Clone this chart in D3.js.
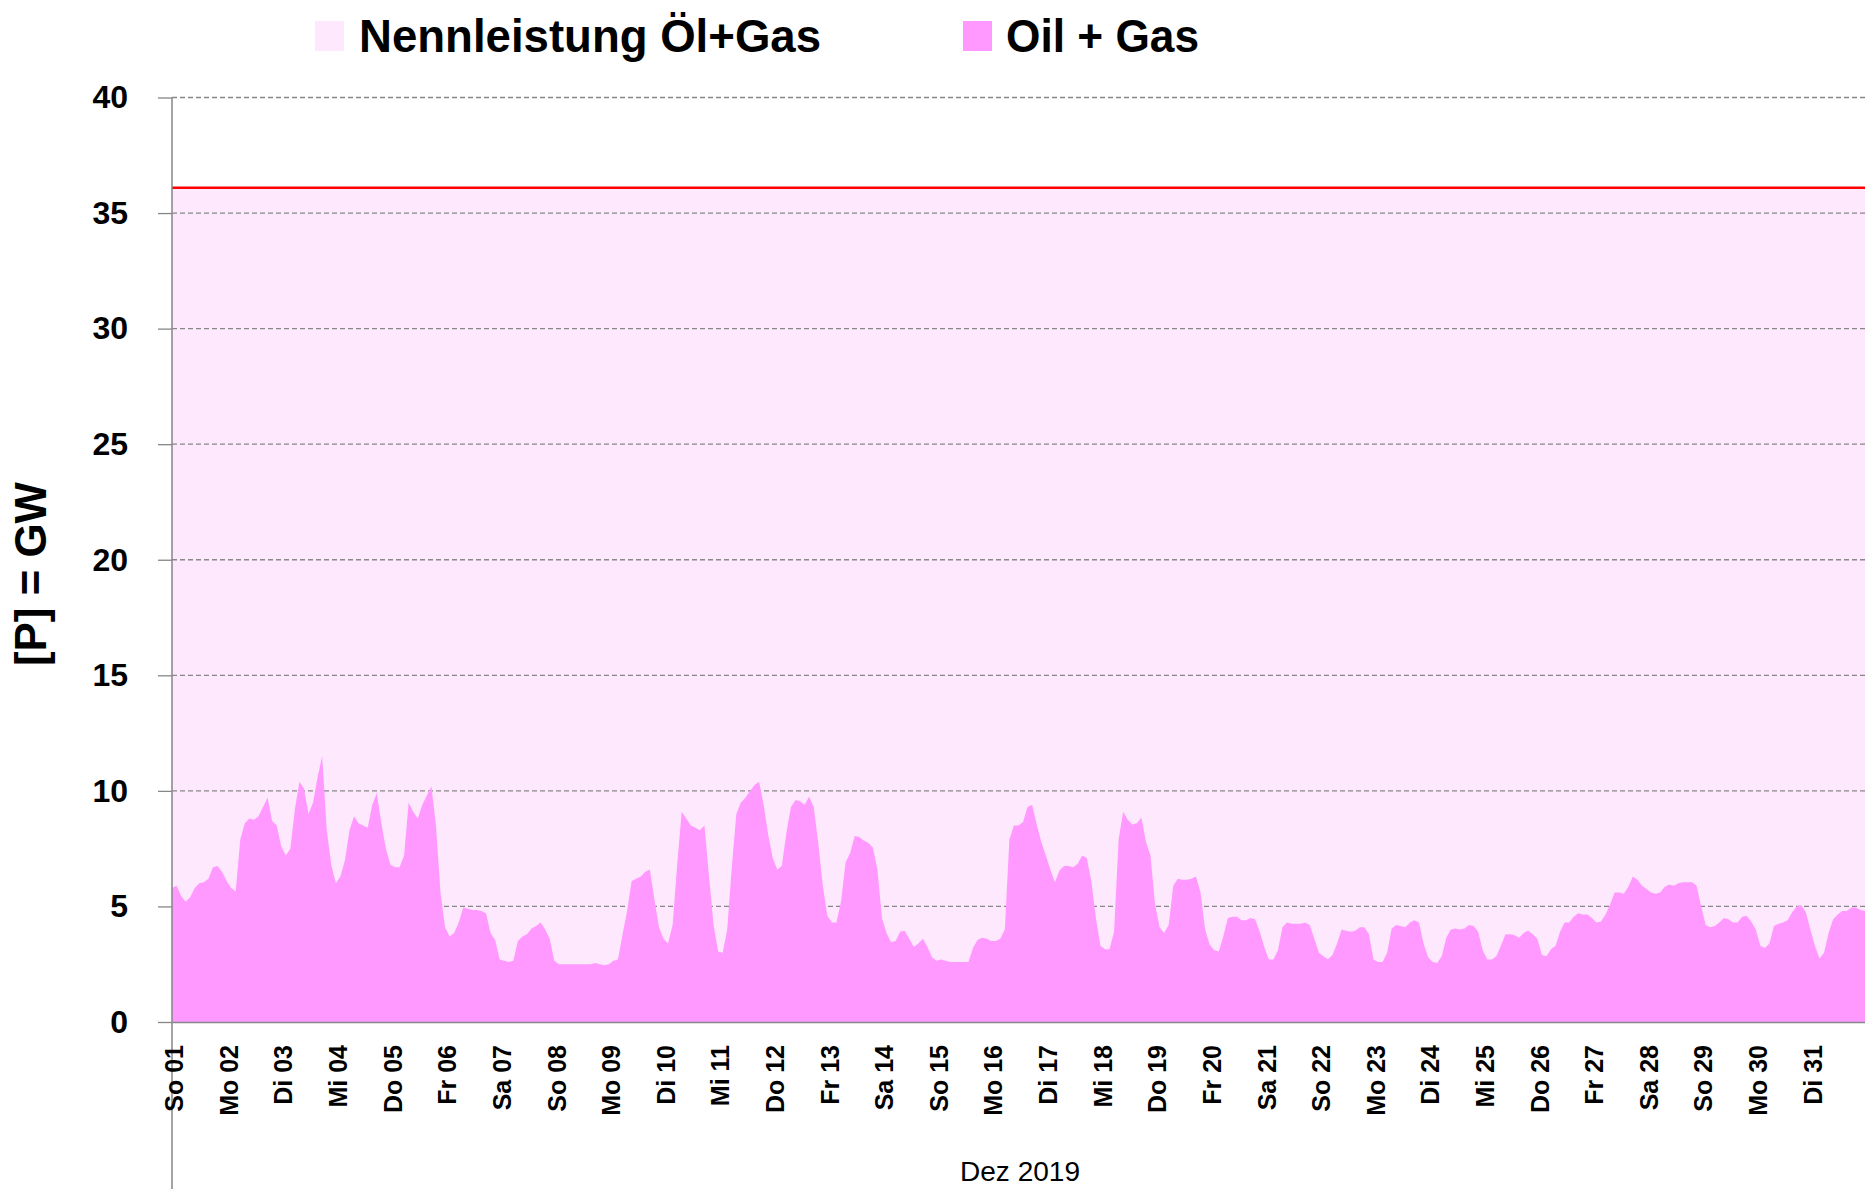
<!DOCTYPE html>
<html>
<head>
<meta charset="utf-8">
<script src="https://cdn.jsdelivr.net/npm/d3@7"></script>
<style>
  html, body { margin: 0; padding: 0; background: #ffffff; }
  svg { display: block; }
</style>
</head>
<body>
<svg id="chart" width="1865" height="1189"></svg>
<script>
// ---------------- DATA ----------------
const dayLabels = ["So 01","Mo 02","Di 03","Mi 04","Do 05","Fr 06","Sa 07","So 08","Mo 09","Di 10",
  "Mi 11","Do 12","Fr 13","Sa 14","So 15","Mo 16","Di 17","Mi 18","Do 19","Fr 20","Sa 21","So 22",
  "Mo 23","Di 24","Mi 25","Do 26","Fr 27","Sa 28","So 29","Mo 30","Di 31"];
const monthLabel = "Dez 2019";
const yTicks = [0, 5, 10, 15, 20, 25, 30, 35, 40];
const stepHours = 2;           // one value every 2 hours
const totalHours = 744;        // 31 days
const nennleistung = [36.1, 36.1]; // rated capacity oil+gas (GW), start and end of month
// Oil + Gas generation (GW), 2-hourly, one line per day
const oilGas = [
  5.8, 5.9, 5.45, 5.2, 5.4, 5.8, 6.0, 6.05, 6.2, 6.7, 6.75, 6.5,
  6.1, 5.8, 5.65, 7.9, 8.6, 8.8, 8.75, 8.9, 9.3, 9.7, 8.7, 8.5,
  7.6, 7.2, 7.5, 9.2, 10.4, 10.1, 9.0, 9.5, 10.6, 11.5, 8.3, 6.8,
  6.0, 6.3, 7.0, 8.3, 8.9, 8.6, 8.5, 8.4, 9.4, 9.9, 8.6, 7.5,
  6.8, 6.7, 6.7, 7.2, 9.5, 9.1, 8.8, 9.4, 9.8, 10.2, 8.5, 5.6,
  4.1, 3.7, 3.85, 4.3, 4.95, 4.9, 4.85, 4.85, 4.8, 4.7, 3.85, 3.55,
  2.7, 2.65, 2.6, 2.65, 3.5, 3.7, 3.8, 4.05, 4.15, 4.3, 4.0, 3.6,
  2.65, 2.5, 2.5, 2.5, 2.5, 2.5, 2.5, 2.5, 2.5, 2.55, 2.5, 2.45,
  2.5, 2.65, 2.7, 3.8, 4.8, 6.1, 6.2, 6.3, 6.5, 6.6, 5.3, 4.1,
  3.6, 3.4, 4.2, 6.8, 9.1, 8.8, 8.5, 8.4, 8.3, 8.5, 6.3, 4.2,
  3.05, 3.0, 4.0, 6.7, 9.0, 9.5, 9.7, 10.0, 10.25, 10.4, 9.4, 8.1,
  7.1, 6.6, 6.75, 8.2, 9.3, 9.6, 9.55, 9.4, 9.75, 9.3, 7.75, 5.9,
  4.6, 4.3, 4.3, 5.2, 6.9, 7.3, 8.05, 8.0, 7.85, 7.75, 7.55, 6.6,
  4.5, 3.85, 3.45, 3.5, 3.9, 3.95, 3.6, 3.25, 3.4, 3.6, 3.25, 2.8,
  2.65, 2.7, 2.65, 2.6, 2.6, 2.6, 2.6, 2.6, 3.2, 3.55, 3.65, 3.6,
  3.5, 3.5, 3.6, 4.0, 7.9, 8.5, 8.5, 8.65, 9.3, 9.4, 8.55, 7.8,
  7.2, 6.6, 6.05, 6.55, 6.75, 6.75, 6.7, 6.85, 7.2, 7.1, 6.1, 4.5,
  3.3, 3.15, 3.15, 3.9, 7.9, 9.1, 8.75, 8.55, 8.6, 8.85, 7.8, 7.2,
  5.1, 4.1, 3.85, 4.2, 5.9, 6.2, 6.15, 6.15, 6.2, 6.3, 5.6, 4.0,
  3.35, 3.1, 3.05, 3.7, 4.5, 4.55, 4.55, 4.4, 4.4, 4.5, 4.45, 3.9,
  3.25, 2.7, 2.7, 3.1, 4.1, 4.3, 4.25, 4.25, 4.25, 4.3, 4.2, 3.6,
  3.0, 2.85, 2.72, 2.9, 3.4, 4.0, 3.95, 3.9, 3.95, 4.1, 4.1, 3.8,
  2.7, 2.6, 2.6, 3.0, 4.05, 4.2, 4.15, 4.1, 4.3, 4.4, 4.3, 3.4,
  2.8, 2.6, 2.55, 2.85, 3.65, 4.0, 4.05, 4.0, 4.05, 4.2, 4.15, 3.9,
  3.1, 2.7, 2.7, 2.85, 3.3, 3.8, 3.8, 3.75, 3.65, 3.85, 3.95, 3.8,
  3.6, 2.9, 2.85, 3.15, 3.3, 3.9, 4.3, 4.3, 4.55, 4.7, 4.65, 4.65,
  4.5, 4.3, 4.35, 4.65, 5.1, 5.6, 5.6, 5.55, 5.85, 6.3, 6.15, 5.9,
  5.75, 5.6, 5.55, 5.6, 5.85, 5.95, 5.9, 6.0, 6.05, 6.05, 6.05, 5.9,
  5.0, 4.2, 4.1, 4.15, 4.3, 4.5, 4.45, 4.3, 4.3, 4.55, 4.6, 4.35,
  4.0, 3.3, 3.2, 3.4, 4.15, 4.25, 4.3, 4.4, 4.75, 5.0, 5.05, 4.75,
  4.0, 3.3, 2.75, 3.0, 3.85, 4.45, 4.65, 4.8, 4.8, 4.95, 4.95, 4.85,
  4.8
];
const legendItems = [
  { label: "Nennleistung Öl+Gas", color: "#fee8fd" },
  { label: "Oil + Gas", color: "#ff99ff" }
];

// ---------------- CHART ----------------
const svg = d3.select("#chart");
const plotLeft = 172, plotRight = 1865, plotTop = 97.5, plotBottom = 1022;

const x = d3.scaleLinear().domain([0, totalHours]).range([plotLeft, plotRight]);
const y = d3.scaleLinear().domain([0, 40]).range([plotBottom, plotTop]);

// Nennleistung area
const capArea = d3.area()
  .x((d, i) => x(i * totalHours))
  .y0(y(0))
  .y1(d => y(d));
svg.append("path")
  .datum(nennleistung)
  .attr("d", capArea)
  .attr("fill", "#fee8fd");

// gridlines
svg.append("g")
  .selectAll("line")
  .data(yTicks.filter(t => t > 0))
  .join("line")
  .attr("x1", plotLeft).attr("x2", plotRight)
  .attr("y1", d => y(d)).attr("y2", d => y(d))
  .attr("stroke", "#888888")
  .attr("stroke-width", 1.3)
  .attr("stroke-dasharray", "5,3");

// Oil + Gas area
const oilArea = d3.area()
  .x((d, i) => x(i * stepHours))
  .y0(y(0))
  .y1(d => y(d));
svg.append("path")
  .datum(oilGas)
  .attr("d", oilArea)
  .attr("fill", "#ff99ff");

// red capacity line
const capLine = d3.line()
  .x((d, i) => x(i * totalHours))
  .y(d => y(d));
svg.append("path")
  .datum(nennleistung)
  .attr("d", capLine)
  .attr("fill", "none")
  .attr("stroke", "#ff0000")
  .attr("stroke-width", 2.5);

// Y axis
const yAxis = d3.axisLeft(y)
  .tickValues(yTicks)
  .tickSize(14)
  .tickPadding(30)
  .tickFormat(d3.format("d"));
const gy = svg.append("g")
  .attr("transform", `translate(${plotLeft},0)`)
  .call(yAxis);
gy.select(".domain").remove();
gy.selectAll(".tick line").attr("stroke", "#868686").attr("stroke-width", 1.3);
gy.selectAll(".tick text")
  .attr("font-family", "'Liberation Sans', Arial, sans-serif")
  .attr("font-weight", "bold")
  .attr("font-size", 32)
  .attr("fill", "#000");

// vertical axis line (extends to bottom)
svg.append("line")
  .attr("x1", plotLeft).attr("x2", plotLeft)
  .attr("y1", plotTop).attr("y2", 1189)
  .attr("stroke", "#868686").attr("stroke-width", 1.5);

// X axis
const dayTicks = dayLabels.map((d, i) => i * 24);
const xAxis = d3.axisBottom(x)
  .tickValues(dayTicks)
  .tickSize(0)
  .tickFormat((d, i) => dayLabels[i]);
const gx = svg.append("g")
  .attr("transform", `translate(0,${plotBottom})`)
  .call(xAxis);
gx.select(".domain").attr("stroke", "#868686").attr("stroke-width", 1.5);
gx.selectAll(".tick text")
  .attr("transform", "rotate(-90)")
  .attr("text-anchor", "end")
  .attr("x", -23)
  .attr("y", 2)
  .attr("dy", "0.35em")
  .attr("font-family", "'Liberation Sans', Arial, sans-serif")
  .attr("font-weight", "bold")
  .attr("font-size", 25)
  .attr("fill", "#000");

// month label
svg.append("text")
  .attr("x", 1020).attr("y", 1181)
  .attr("text-anchor", "middle")
  .attr("font-family", "'Liberation Sans', Arial, sans-serif")
  .attr("font-size", 28)
  .attr("textLength", 120)
  .attr("lengthAdjust", "spacingAndGlyphs")
  .attr("fill", "#000")
  .text(monthLabel);

// Y axis title
svg.append("text")
  .attr("transform", "translate(46,574) rotate(-90)")
  .attr("text-anchor", "middle")
  .attr("font-family", "'Liberation Sans', Arial, sans-serif")
  .attr("font-weight", "bold")
  .attr("font-size", 44)
  .attr("textLength", 184)
  .attr("lengthAdjust", "spacingAndGlyphs")
  .attr("fill", "#000")
  .text("[P]  = GW");

// Legend
const legendPos = [{ sx: 315, tx: 359, w: 462 }, { sx: 963, tx: 1006, w: 193 }];
const lg = svg.append("g");
legendItems.forEach((item, i) => {
  const p = legendPos[i];
  lg.append("rect")
    .attr("x", p.sx).attr("y", 21)
    .attr("width", 29).attr("height", 30)
    .attr("fill", item.color);
  lg.append("text")
    .attr("x", p.tx).attr("y", 52)
    .attr("font-family", "'Liberation Sans', Arial, sans-serif")
    .attr("font-weight", "bold")
    .attr("font-size", 47)
    .attr("textLength", p.w)
    .attr("lengthAdjust", "spacingAndGlyphs")
    .attr("fill", "#000")
    .text(item.label);
});
</script>
</body>
</html>
